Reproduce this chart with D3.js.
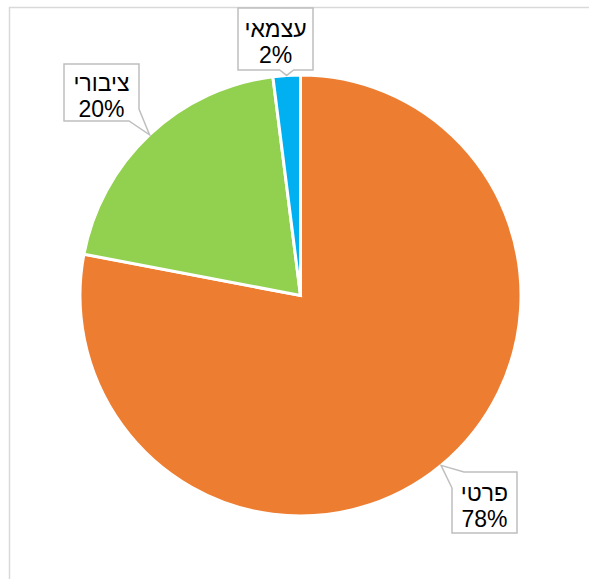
<!DOCTYPE html>
<html>
<head>
<meta charset="utf-8">
<script src="https://cdn.jsdelivr.net/npm/d3@7"></script>
<style>
  body { margin: 0; background: #fff; }
  svg { display: block; }
</style>
</head>
<body>
<div id="chart"></div>
<script>
// data
const categories = ["פרטי", "ציבורי", "עצמאי"];
const values = [78, 20, 2];
const colors = ["#ED7D31", "#92D050", "#00B0F0"];

// label boxes (top-left corner, size) for each slice
const boxes = [
  {x: 452, y: 472, w: 65, h: 61},
  {x: 64, y: 64, w: 75, h: 57},
  {x: 238, y: 8, w: 75, h: 62}
];

const width = 589, height = 579;
const cx = 300.5, cy = 295.5, radius = 220.5;

const svg = d3.select("#chart").append("svg")
    .attr("width", width)
    .attr("height", height);

// chart frame
svg.append("rect")
    .attr("x", 9.5).attr("y", 7.5)
    .attr("width", 600).attr("height", 600)
    .attr("fill", "none")
    .attr("stroke", "#d9d9d9")
    .attr("stroke-width", 1.5);

const pie = d3.pie().sort(null).value(d => d)(values);
const arc = d3.arc().innerRadius(0).outerRadius(radius);

const g = svg.append("g").attr("transform", `translate(${cx},${cy})`);

g.selectAll("path.slice")
    .data(pie)
  .enter().append("path")
    .attr("class", "slice")
    .attr("d", arc)
    .attr("fill", (d, i) => colors[i])
    .attr("stroke", "#fff")
    .attr("stroke-width", 3)
    .attr("stroke-linejoin", "miter");

// callouts
function calloutPath(b, tx, ty) {
  const x0 = b.x, y0 = b.y, x1 = b.x + b.w, y1 = b.y + b.h;
  // which side is the tip on
  if (ty > y1) {
    // below the box
    const m = Math.max(x0 + 8, Math.min(x1 - 8, tx));
    if (tx > x1 - 12) {
      return `M${x0},${y0}H${x1}V${y1 - 12}L${tx},${ty}L${x1 - 10},${y1}H${x0}Z`;
    }
    return `M${x0},${y0}H${x1}V${y1}H${m + 7}L${tx},${ty}L${m - 7},${y1}H${x0}Z`;
  }
  if (ty < y0) {
    // above, tip near left corner
    return `M${x0},${y0 + 16}L${tx},${ty}L${x0 + 12},${y0}H${x1}V${y1}H${x0}Z`;
  }
  return `M${x0},${y0}H${x1}V${y1}H${x0}Z`;
}

pie.forEach((d, i) => {
  const a = (d.startAngle + d.endAngle) / 2;
  const tx = cx + radius * Math.sin(a);
  const ty = cy - radius * Math.cos(a);
  const b = boxes[i];
  svg.append("path")
    .attr("d", calloutPath(b, tx, ty))
    .attr("fill", "#fff")
    .attr("stroke", "#bfbfbf")
    .attr("stroke-width", 1.5);
  const t = svg.append("text")
    .attr("text-anchor", "middle")
    .attr("font-family", "Liberation Sans, Arial, sans-serif")
    .attr("font-size", 23)
    .attr("fill", "#000");
  t.append("tspan")
    .attr("x", b.x + b.w / 2)
    .attr("y", b.y + b.h / 2 - 2)
    .attr("direction", "rtl")
    .text(categories[i]);
  t.append("tspan")
    .attr("x", b.x + b.w / 2)
    .attr("y", b.y + b.h / 2 + 24)
    .text(values[i] + "%");
});
</script>
</body>
</html>
